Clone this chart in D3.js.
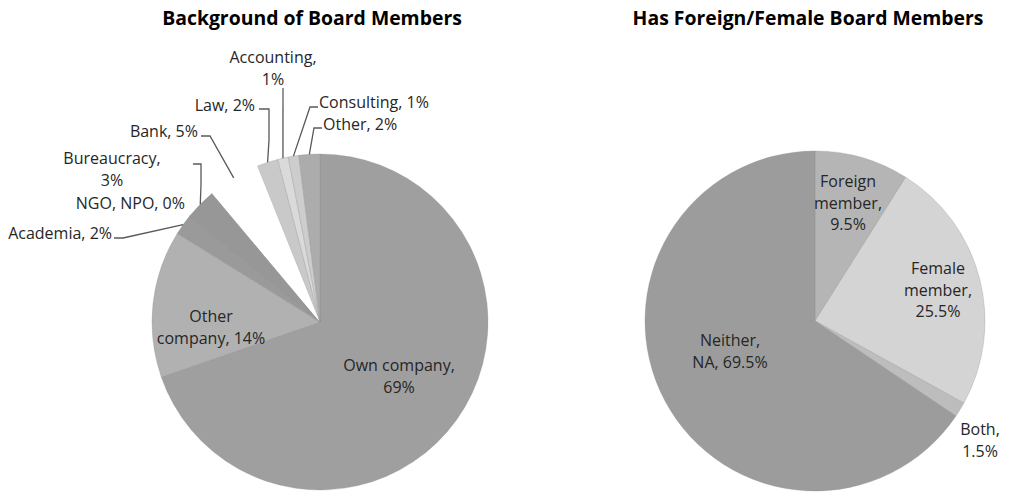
<!DOCTYPE html>
<html>
<head>
<meta charset="utf-8">
<script src="https://cdn.jsdelivr.net/npm/d3@7"></script>
<style>
  html, body { margin: 0; padding: 0; background: #fff; }
  svg { display: block; }
  text { font-family: "Open Sans", "Noto Sans", sans-serif; }
</style>
</head>
<body>
<svg id="chart" width="1011" height="493"></svg>
<script>
// ---------- data ----------
const bgCategories = ["Own company", "Other company", "Academia", "NGO, NPO", "Bureaucracy", "Bank", "Law", "Accounting", "Consulting", "Other"];
const bgValues     = [69, 14, 2, 0, 3, 5, 2, 1, 1, 2];
const bgLabels     = ["Own company,\n69%", "Other\ncompany, 14%", "Academia, 2%", "NGO, NPO, 0%", "Bureaucracy,\n3%", "Bank, 5%", "Law, 2%", "Accounting,\n1%", "Consulting, 1%", "Other, 2%"];

const ffCategories = ["Foreign member", "Female member", "Both", "Neither, NA"];
const ffValues     = [9.5, 25.5, 1.5, 69.5];
const ffLabels     = ["Foreign\nmember,\n9.5%", "Female\nmember,\n25.5%", "Both,\n1.5%", "Neither,\nNA, 69.5%"];

const titles = ["Background of Board Members", "Has Foreign/Female Board Members"];

// ---------- styles / layout ----------
const bgColors = ["#9f9f9f", "#b1b1b1", "#9a9a9a", "#989898", "#979797", "#ffffff", "#c9c9c9", "#dadada", "#cdcdcd", "#acacac"];
const ffColors = ["#b5b5b5", "#d4d4d4", "#bdbdbd", "#9c9c9c"];

const leftPie  = { cx: 320, cy: 322, r: 168 };
const rightPie = { cx: 815, cy: 321, r: 170 };

// label layout: x, first baseline, anchor, leader elbows
const bgLabelLayout = [
  { x: 399, y: 371, anchor: "middle" },
  { x: 211, y: 322, anchor: "middle" },
  { x: 112, y: 239, anchor: "end",   line: [[114, 238], [123, 238]] },
  { x: 185, y: 209, anchor: "end" },
  { x: 112, y: 164, anchor: "middle", line: [[193, 164], [201, 164], [201, 185]] },
  { x: 198, y: 137, anchor: "end",   line: [[201, 136], [210, 136]] },
  { x: 255, y: 111, anchor: "end",   line: [[259, 109], [269, 109], [269, 140]] },
  { x: 273, y: 63,  anchor: "middle", line: [[283, 88]] },
  { x: 319, y: 108, anchor: "start", line: [[318, 107], [310, 107]] },
  { x: 323, y: 130, anchor: "start", line: [[322, 128], [314, 128]] }
];
const ffLabelLayout = [
  { x: 848, y: 187, anchor: "middle" },
  { x: 938, y: 274, anchor: "middle" },
  { x: 980, y: 435, anchor: "middle" },
  { x: 730, y: 346, anchor: "middle" }
];
const lineHeight = 21.5;
const labelSize = 16;
const titleSize = 19.4;

const svg = d3.select("#chart");

function drawPie(cfg, values, colors, labels, layout, title, titleX, withLeaders) {
  const pie = d3.pie().sort(null).value(d => d);
  const arcs = pie(values);
  const arc = d3.arc().innerRadius(0).outerRadius(cfg.r);
  const g = svg.append("g").attr("transform", `translate(${cfg.cx},${cfg.cy})`);

  g.selectAll("path.slice")
    .data(arcs)
    .join("path")
    .attr("class", "slice")
    .attr("d", arc)
    .attr("fill", (d, i) => colors[i])
    .attr("stroke", (d, i) => colors[i] === "#ffffff" ? "none" : "#8c8c8c")
    .attr("stroke-width", 0.5)
    .attr("stroke-opacity", 0.6);

  if (withLeaders) {
    arcs.forEach((a, i) => {
      const L = layout[i];
      if (!L.line) return;
      const mid = (a.startAngle + a.endAngle) / 2;
      const ex = cfg.cx + cfg.r * Math.sin(mid);
      const ey = cfg.cy - cfg.r * Math.cos(mid);
      const pts = L.line.slice();
      pts.push([ex, ey]);
      svg.append("path")
        .attr("d", d3.line()(pts))
        .attr("fill", "none")
        .attr("stroke", "#595959")
        .attr("stroke-width", 1.3);
    });
  }

  labels.forEach((lab, i) => {
    const L = layout[i];
    const t = svg.append("text")
      .attr("x", L.x).attr("y", L.y)
      .attr("text-anchor", L.anchor)
      .attr("fill", "#262626")
      .attr("font-size", labelSize);
    lab.split("\n").forEach((line, k) => {
      t.append("tspan").attr("x", L.x).attr("y", L.y + k * lineHeight).text(line);
    });
  });

  svg.append("text")
    .attr("x", titleX).attr("y", 25)
    .attr("text-anchor", "middle")
    .attr("font-weight", "bold")
    .attr("font-size", titleSize)
    .attr("fill", "#000")
    .text(title);
}

drawPie(leftPie, bgValues, bgColors, bgLabels, bgLabelLayout, titles[0], 312, true);
drawPie(rightPie, ffValues, ffColors, ffLabels, ffLabelLayout, titles[1], 808, false);
</script>
</body>
</html>
